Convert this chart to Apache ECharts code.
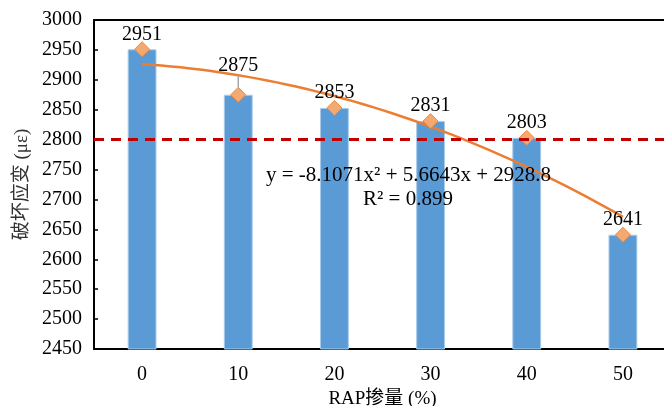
<!DOCTYPE html>
<html>
<head>
<meta charset="utf-8">
<style>
  html, body { margin: 0; padding: 0; background: #fff; }
  #chart { width: 664px; height: 406px; }
</style>
<script src="https://cdn.jsdelivr.net/npm/echarts@6/dist/echarts.min.js"></script>
</head>
<body>
<div id="chart"></div>
<script>
// RAP content (%) categories and failure strain (με)
const categories = ['0', '10', '20', '30', '40', '50'];
const strain = [2951, 2875, 2853, 2831, 2803, 2641];
// Quadratic trend line y = a·x² + b·x + c, x = 1..6 (category order)
const trendCoef = [-8.1071, 5.6643, 2928.8];
const trendR2 = 0.899;
// Reference level drawn as a dashed line
const threshold = 2800;
// Value axis range
const yMin = 2450, yMax = 3000, yStep = 50;

const serif = '"Liberation Serif", "Times New Roman", "Noto Sans CJK SC", serif';

// Sample the stated trend equation along the category positions
const trendPoints = [];
for (let i = 0; i <= 50; i++) {
  const x = 1 + i * 0.1;
  trendPoints.push([x, trendCoef[0] * x * x + trendCoef[1] * x + trendCoef[2]]);
}

const eqText = 'y = ' + trendCoef[0] + 'x² + ' + trendCoef[1] + 'x + ' + trendCoef[2];
const r2Text = 'R² = ' + trendR2;

const chart = echarts.init(document.getElementById('chart'), null, { renderer: 'canvas' });

chart.setOption({
  animation: false,
  textStyle: { fontFamily: serif },
  grid: { left: 94, width: 577, top: 20, bottom: 57, outerBoundsMode: 'none', containLabel: false },
  xAxis: [
    {
      type: 'category',
      data: categories,
      boundaryGap: true,
      axisLine: { lineStyle: { color: '#000', width: 2 } },
      axisTick: { inside: true, length: 4, lineStyle: { color: '#000', width: 1.5 } },
      axisLabel: { color: '#000', fontSize: 20, fontFamily: serif, margin: 16 },
      name: 'RAP掺量 (%)',
      nameLocation: 'middle',
      nameGap: 38,
      nameTextStyle: { color: '#000', fontSize: 19, fontFamily: serif },
      splitLine: { show: false }
    },
    {
      // continuous companion axis for the trend curve, also closes the top of the frame
      type: 'value',
      position: 'top',
      min: 0.5,
      max: 6.5,
      axisLine: { show: true, onZero: false, lineStyle: { color: '#000', width: 2 } },
      axisTick: { show: false },
      axisLabel: { show: false },
      splitLine: { show: false }
    }
  ],
  yAxis: {
    type: 'value',
    min: yMin,
    max: yMax,
    interval: yStep,
    axisLine: { show: true, lineStyle: { color: '#000', width: 2 } },
    axisTick: { show: true, inside: true, length: 4, lineStyle: { color: '#000', width: 1.5 } },
    axisLabel: { color: '#000', fontSize: 20, fontFamily: serif, margin: 12, formatter: v => String(v) },
    splitLine: { show: false },
    name: '破坏应变 (με)',
    nameLocation: 'middle',
    nameGap: 56,
    nameRotate: 90,
    nameTextStyle: { color: '#333', fontSize: 19, fontFamily: serif }
  },
  series: [
    {
      type: 'bar',
      data: strain,
      barWidth: '30%',
      itemStyle: { color: '#5B9BD5', borderColor: '#A9CBEA', borderWidth: 1 },
      z: 2,
      markLine: {
        silent: true,
        symbol: 'none',
        label: { show: false },
        lineStyle: { color: '#C00000', width: 3, type: [10, 7] },
        data: [{ yAxis: threshold }]
      }
    },
    {
      type: 'line',
      xAxisIndex: 1,
      data: trendPoints,
      showSymbol: false,
      smooth: false,
      lineStyle: { color: '#ED7D31', width: 2.5 },
      z: 3
    },
    {
      type: 'scatter',
      data: strain.map((v, i) => i === 1
        ? { value: v, labelLine: { show: true, lineStyle: { color: '#A6A6A6', width: 1.5 } } }
        : v),
      symbol: 'diamond',
      symbolSize: 15,
      itemStyle: { color: '#F4A971', borderColor: '#EC8B45', borderWidth: 1, opacity: 1 },
      label: {
        show: true,
        position: 'top',
        distance: -3,
        color: '#000',
        opacity: 1,
        textBorderWidth: 0,
        fontSize: 20,
        fontFamily: serif
      },
      labelLayout: function (params) {
        return params.dataIndex === 1 ? { dy: -14 } : {};
      },
      z: 4
    }
  ],
  graphic: [
    {
      type: 'text',
      left: 406 - 140,
      top: 165,
      z: 100,
      style: { text: eqText, fill: '#000', font: '21px ' + serif }
    },
    {
      type: 'text',
      left: 408 - 45,
      top: 189,
      z: 100,
      style: { text: r2Text, fill: '#000', font: '21px ' + serif }
    }
  ]
});
</script>
</body>
</html>
